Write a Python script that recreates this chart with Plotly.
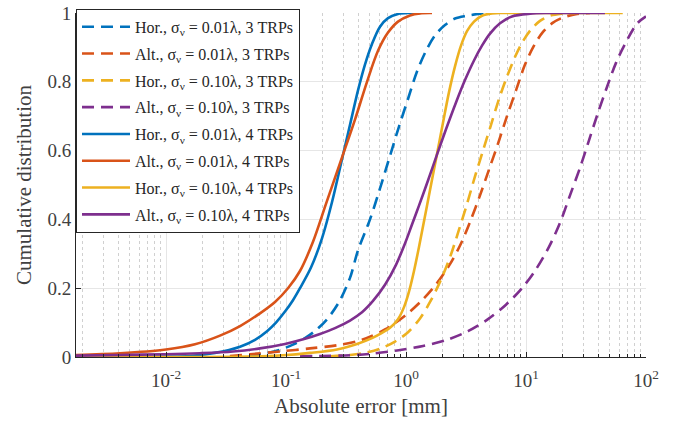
import plotly.graph_objects as go

# ---------------- data ----------------
names = [
    "Hor., σ<sub>ν</sub> = 0.01λ, 3 TRPs",
    "Alt., σ<sub>ν</sub> = 0.01λ, 3 TRPs",
    "Hor., σ<sub>ν</sub> = 0.10λ, 3 TRPs",
    "Alt., σ<sub>ν</sub> = 0.10λ, 3 TRPs",
    "Hor., σ<sub>ν</sub> = 0.01λ, 4 TRPs",
    "Alt., σ<sub>ν</sub> = 0.01λ, 4 TRPs",
    "Hor., σ<sub>ν</sub> = 0.10λ, 4 TRPs",
    "Alt., σ<sub>ν</sub> = 0.10λ, 4 TRPs",
]

hor001_3_x = [0.0341, 0.0501, 0.0668, 0.0891, 0.1143, 0.1440, 0.1778, 0.2239, 0.2818, 0.3415,
              0.3981, 0.5012, 0.6072, 0.7356, 0.8743, 1.0391, 1.2353, 1.4678, 1.7448, 2.1135,
              2.5604, 3.2234, 4.1376, 5.0119]
hor001_3_y = [0.001, 0.004, 0.01, 0.021, 0.036, 0.055, 0.078, 0.113, 0.165, 0.23,
              0.31, 0.40, 0.49, 0.585, 0.67, 0.75, 0.83, 0.89, 0.935, 0.965,
              0.984, 0.992, 0.998, 1.0]

alt001_3_x = [0.0341, 0.0501, 0.0944, 0.1585, 0.2661, 0.4299, 0.6683, 0.9810, 1.3594, 1.8126,
              2.3263, 2.8728, 3.4807, 4.1376, 4.9170, 5.8434, 6.9441, 8.2540, 9.8101, 11.659,
              13.856, 16.788, 20.338, 26.607, 34.146]
alt001_3_y = [0.003, 0.008, 0.017, 0.025, 0.034, 0.05, 0.08, 0.12, 0.165, 0.215,
              0.27, 0.33, 0.40, 0.47, 0.545, 0.62, 0.70, 0.775, 0.85, 0.905,
              0.945, 0.972, 0.987, 0.997, 1.0]

hor010_3_x = [0.2326, 0.3415, 0.4551, 0.6072, 0.8096, 1.0391, 1.3084, 1.6156, 1.9574, 2.3263,
              2.7647, 3.2234, 3.7584, 4.3824, 5.1098, 5.9566, 6.9441, 8.0946, 9.4406, 11.007,
              13.084, 15.849, 19.953, 25.604]
hor010_3_y = [0.002, 0.006, 0.012, 0.024, 0.045, 0.072, 0.112, 0.165, 0.225, 0.29,
              0.37, 0.445, 0.525, 0.60, 0.675, 0.75, 0.815, 0.872, 0.918, 0.952,
              0.977, 0.992, 0.998, 1.0]

alt010_3_x = [0.1308, 0.3415, 0.5309, 0.8414, 1.3857, 2.1966, 3.2857, 4.8252, 6.8129, 9.2611,
              12.115, 15.546, 19.203, 23.263, 28.184, 33.497, 39.811, 47.315, 56.234, 66.834,
              84.140, 100.0]
alt010_3_y = [0.002, 0.005, 0.01, 0.019, 0.032, 0.05, 0.075, 0.11, 0.152, 0.20,
              0.255, 0.32, 0.39, 0.47, 0.55, 0.63, 0.71, 0.785, 0.855, 0.91,
              0.969, 0.99]

hor001_4_x = [0.00178, 0.01, 0.01585, 0.0256, 0.0414, 0.0552, 0.0695, 0.0825, 0.0981, 0.1143,
              0.1308, 0.1615, 0.1995, 0.2416, 0.2929, 0.3415, 0.3981, 0.4551, 0.5208, 0.6072,
              0.7079, 0.8577, 1.0798, 1.31]
hor001_4_y = [0.0, 0.001, 0.003, 0.012, 0.03, 0.05, 0.075, 0.10, 0.132, 0.165,
              0.20, 0.26, 0.345, 0.45, 0.575, 0.675, 0.775, 0.85, 0.91, 0.96,
              0.985, 0.997, 1.0, 1.0]

alt001_4_x = [0.00178, 0.00414, 0.01, 0.01745, 0.02818, 0.0414, 0.0607, 0.0810, 0.1039, 0.1308,
              0.1679, 0.2154, 0.2929, 0.3758, 0.4732, 0.5843, 0.7079, 0.8577, 1.0798, 1.3095,
              1.647]
alt001_4_y = [0.006, 0.011, 0.022, 0.037, 0.062, 0.09, 0.127, 0.16, 0.20, 0.25,
              0.335, 0.445, 0.58, 0.69, 0.80, 0.89, 0.943, 0.975, 0.993, 0.999,
              1.0]

hor010_4_x = [0.00178, 0.0501, 0.0944, 0.1585, 0.2661, 0.3906, 0.5208, 0.631, 0.7356, 0.8577,
              0.9624, 1.0593, 1.166, 1.2830, 1.4962, 1.803, 2.0336, 2.2819, 2.5604, 2.8728,
              3.2234, 3.6869, 4.2987, 5.2087, 6.6834, 64.0]
hor010_4_y = [0.0, 0.001, 0.005, 0.012, 0.022, 0.038, 0.055, 0.07, 0.085, 0.11,
              0.145, 0.19, 0.25, 0.32, 0.44, 0.586, 0.681, 0.77, 0.845, 0.905,
              0.947, 0.975, 0.992, 0.999, 1.0, 1.0]

alt010_4_x = [0.00178, 0.00414, 0.00981, 0.0192, 0.0362, 0.0607, 0.0981, 0.1440, 0.1920, 0.2561,
              0.3415, 0.4299, 0.5309, 0.6683, 0.8254, 0.9810, 1.1220, 1.2830, 1.5253, 1.803,
              2.1544, 2.6102, 3.1023, 3.6869, 4.2987, 5.0119, 6.0729, 7.6421, 10.798, 14.962,
              45.5]
alt010_4_y = [0.004, 0.006, 0.008, 0.011, 0.016, 0.025, 0.038, 0.053, 0.067, 0.084,
              0.106, 0.13, 0.163, 0.21, 0.268, 0.33, 0.385, 0.44, 0.513, 0.586,
              0.662, 0.74, 0.805, 0.862, 0.905, 0.94, 0.97, 0.99, 0.998, 1.0,
              1.0]

x_tick_vals = [0.01, 0.1, 1, 10, 100]
x_tick_text = ["10<sup>-2</sup>", "10<sup>-1</sup>", "10<sup>0</sup>", "10<sup>1</sup>", "10<sup>2</sup>"]
y_tick_vals = [0, 0.2, 0.4, 0.6, 0.8, 1.0]
y_tick_text = ["0", "0.2", "0.4", "0.6", "0.8", "1"]

# ---------------- styling ----------------
BLUE, ORANGE, YELLOW, PURPLE = "#0072BD", "#D95319", "#EDB120", "#7E2F8E"
FONT = "Liberation Serif, Times New Roman, serif"
DASH = "12px,7px"

series = [
    (hor001_3_x, hor001_3_y, BLUE, DASH),
    (alt001_3_x, alt001_3_y, ORANGE, DASH),
    (hor010_3_x, hor010_3_y, YELLOW, DASH),
    (alt010_3_x, alt010_3_y, PURPLE, DASH),
    (hor001_4_x, hor001_4_y, BLUE, "solid"),
    (alt001_4_x, alt001_4_y, ORANGE, "solid"),
    (hor010_4_x, hor010_4_y, YELLOW, "solid"),
    (alt010_4_x, alt010_4_y, PURPLE, "solid"),
]

fig = go.Figure()
for i, (name, (xs, ys, col, dash)) in enumerate(zip(names, series)):
    fig.add_trace(go.Scatter(
        x=xs, y=ys, mode="lines", name=name, legendgroup=f"g{i}",
        line=dict(color=col, width=2.6, dash=dash, shape="spline", smoothing=0.9),
    ))

axis_common = dict(
    showline=True, linecolor="#262626", linewidth=1, mirror=False,
    ticks="inside", ticklen=5, tickcolor="#262626", tickwidth=1,
    showgrid=True, gridcolor="#e6e6e6", gridwidth=1, zeroline=False,
    tickfont=dict(family=FONT, size=19, color="#404040"),
    ticklabeloverflow="allow", automargin=False,
)

fig.update_layout(
    width=682, height=425,
    margin=dict(l=76, r=36, t=9, b=68),
    paper_bgcolor="white", plot_bgcolor="white",
    font=dict(family=FONT, color="#262626"),
    xaxis=dict(
        type="log", range=[-2.75, 2.0],
        tickmode="array", tickvals=x_tick_vals, ticktext=x_tick_text,
        ticklabelstandoff=6,
        minor=dict(dtick="D1", ticks="inside", ticklen=3, tickcolor="#262626",
                   showgrid=True, gridcolor="#d0d0d0", griddash="dot", gridwidth=1),
        title=dict(text="Absolute error [mm]", font=dict(family=FONT, size=21, color="#404040"),
                   standoff=8),
        **axis_common,
    ),
    yaxis=dict(
        range=[0, 1],
        tickmode="array", tickvals=y_tick_vals, ticktext=y_tick_text,
        title=dict(text="Cumulative distribution", font=dict(family=FONT, size=21, color="#404040"),
                   standoff=10),
        **axis_common,
    ),
    legend=dict(
        x=0, y=1.012, xanchor="left", yanchor="top",
        bgcolor="white", bordercolor="#262626", borderwidth=1,
        font=dict(family=FONT, size=16, color="#262626"),
        itemwidth=48, tracegroupgap=3, maxheight=400,
    ),
    showlegend=True,
)

fig.write_html("out.html", config={"displayModeBar": False},
               post_script="document.body.style.margin='0';")
